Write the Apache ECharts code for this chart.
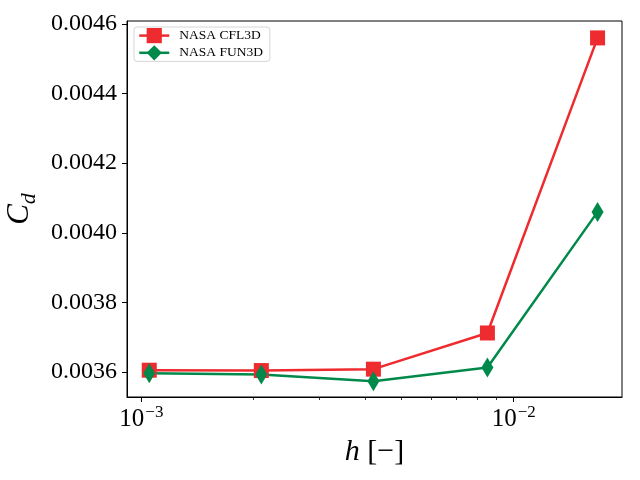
<!DOCTYPE html>
<html lang="en">
<head>
    <meta charset="UTF-8">
    <title>Cd convergence</title>
    <script src="https://cdn.jsdelivr.net/npm/echarts@6/dist/echarts.min.js"></script>
    <style>
        html, body { margin: 0; padding: 0; background: #fff; }
        #main { width: 640px; height: 480px; }
    </style>
</head>
<body>
<div id="main"></div>
<script>
    // grid spacing h and drag coefficient for each code
    var h = [0.00105, 0.0021, 0.0042, 0.0085, 0.0168];
    var cfl3d = [0.003605, 0.003604, 0.003608, 0.003712, 0.004560];
    var fun3d = [0.003596, 0.003593, 0.003573, 0.003613, 0.004060];

    var xMajor = [0.001, 0.01];
    var xMinor = [0.002, 0.003, 0.004, 0.005, 0.006, 0.007, 0.008, 0.009];
    var yTicks = [0.0036, 0.0038, 0.0040, 0.0042, 0.0044, 0.0046];

    var serif = '"Liberation Serif", "Times New Roman", serif';
    var red = '#ee2b2f';
    var green = '#00894a';

    function pairs(xs, ys) {
        var out = [];
        for (var i = 0; i < xs.length; i++) {
            out.push([xs[i], ys[i]]);
        }
        return out;
    }

    var myChart = echarts.init(document.getElementById('main'));

    var option = {
        animation: false,
        backgroundColor: '#fff',
        grid: {
            left: 127, right: 18, top: 21, bottom: 83,
            outerBoundsMode: 'none',
            containLabel: false,
            show: true, borderColor: '#000', borderWidth: 1,
            backgroundColor: 'transparent'
        },
        legend: {
            left: 134, top: 27,
            orient: 'vertical',
            itemWidth: 30, itemHeight: 19, itemGap: 2,
            padding: [1, 7, 1, 4],
            borderColor: '#d6d6d6', borderWidth: 1, borderRadius: 3,
            backgroundColor: 'rgba(255,255,255,0.8)',
            lineStyle: { width: 2.5 },
            textStyle: { fontFamily: serif, fontSize: 13.5, color: '#000', padding: [0, 0, 0, 5] },
            data: ['NASA CFL3D', 'NASA FUN3D']
        },
        xAxis: [
            {
                type: 'log', logBase: 10,
                min: 0.000915, max: 0.01954,
                name: '{i|h}{n| [−]}',
                nameLocation: 'middle', nameGap: 33,
                nameTextStyle: {
                    rich: {
                        i: { fontFamily: serif, fontStyle: 'italic', fontSize: 30, color: '#000' },
                        n: { fontFamily: serif, fontSize: 30, color: '#000' }
                    }
                },
                axisLine: { show: true, lineStyle: { color: '#000', width: 1 } },
                axisTick: { show: true, length: 5, customValues: xMajor, lineStyle: { color: '#000' } },
                axisLabel: {
                    show: true, margin: 7, customValues: xMajor,
                    formatter: function (v) {
                        var e = Math.round(Math.log10(v));
                        return '{b|10}{s|' + (e < 0 ? '−' + (-e) : e) + '}';
                    },
                    rich: {
                        b: { fontFamily: serif, fontSize: 25, color: '#000', lineHeight: 28, verticalAlign: 'bottom' },
                        s: { fontFamily: serif, fontSize: 17, color: '#000', lineHeight: 28, verticalAlign: 'top', padding: [0, 0, 0, 1] }
                    }
                },
                splitLine: { show: false }
            },
            {
                type: 'log', logBase: 10,
                min: 0.000915, max: 0.01954,
                position: 'bottom',
                axisLine: { show: false },
                axisTick: { show: true, length: 3, customValues: xMinor, lineStyle: { color: '#000', width: 0.8 } },
                axisLabel: { show: false },
                splitLine: { show: false }
            }
        ],
        yAxis: {
            type: 'value',
            min: 0.003528, max: 0.0046086,
            name: '{c|C}{d|d}',
            nameLocation: 'middle', nameRotate: 90, nameGap: 87,
            nameTextStyle: {
                rich: {
                    c: { fontFamily: serif, fontStyle: 'italic', fontSize: 31, color: '#000', lineHeight: 36, verticalAlign: 'top' },
                    d: { fontFamily: serif, fontStyle: 'italic', fontSize: 22, color: '#000', lineHeight: 36, verticalAlign: 'bottom' }
                }
            },
            axisLine: { show: true, lineStyle: { color: '#000', width: 1 } },
            axisTick: { show: true, length: 5, customValues: yTicks, lineStyle: { color: '#000' } },
            axisLabel: {
                margin: 10, customValues: yTicks,
                fontFamily: serif, fontSize: 24, color: '#000',
                formatter: function (v) { return v.toFixed(4); }
            },
            splitLine: { show: false }
        },
        series: [
            {
                name: 'NASA CFL3D',
                type: 'line',
                data: pairs(h, cfl3d),
                symbol: 'rect', symbolSize: 15,
                showAllSymbol: true,
                lineStyle: { color: red, width: 2.5 },
                itemStyle: { color: red, borderWidth: 0 }
            },
            {
                name: 'NASA FUN3D',
                type: 'line',
                data: pairs(h, fun3d),
                symbol: 'diamond', symbolSize: [12, 20],
                showAllSymbol: true,
                lineStyle: { color: green, width: 2.5 },
                itemStyle: { color: green, borderWidth: 0 }
            }
        ]
    };

    myChart.setOption(option, true);
</script>
</body>
</html>
